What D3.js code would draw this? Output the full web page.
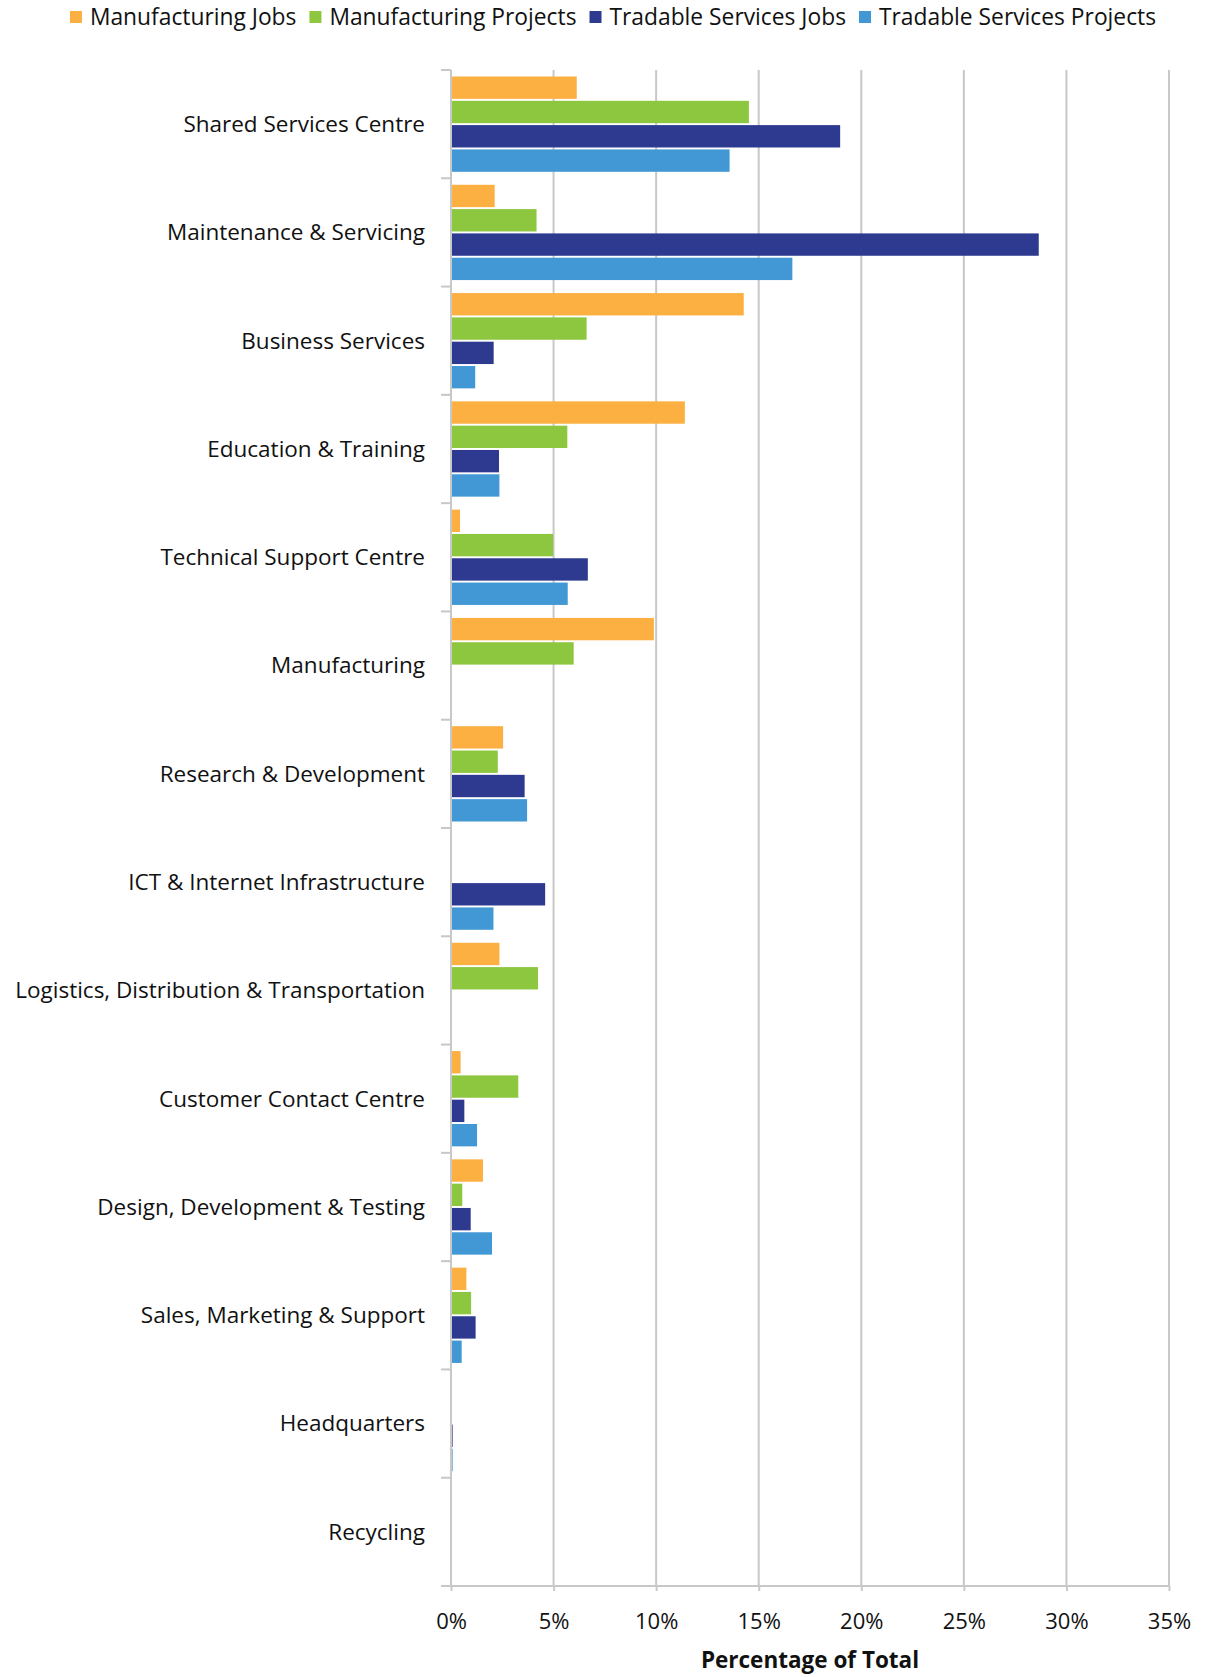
<!DOCTYPE html>
<html>
<head>
<meta charset="utf-8">
<script src="https://cdn.jsdelivr.net/npm/d3@7"></script>
<style>
  html, body { margin: 0; padding: 0; background: #fff; }
  svg text { font-family: "Open Sans", "Noto Sans", sans-serif; fill: #111; }
</style>
</head>
<body>
<svg id="chart" width="1205" height="1677"></svg>
<script>
// Project categories (top to bottom)
const categories = [
  "Shared Services Centre",
  "Maintenance & Servicing",
  "Business Services",
  "Education & Training",
  "Technical Support Centre",
  "Manufacturing",
  "Research & Development",
  "ICT & Internet Infrastructure",
  "Logistics, Distribution & Transportation",
  "Customer Contact Centre",
  "Design, Development & Testing",
  "Sales, Marketing & Support",
  "Headquarters",
  "Recycling"
];

// Share of total (%) per category, one array per series
const manufacturingJobs      = [6.13, 2.13, 14.27, 11.40, 0.44, 9.89, 2.54, 0, 2.36, 0.47, 1.56, 0.75, 0, 0];
const manufacturingProjects  = [14.52, 4.17, 6.61, 5.67, 4.98, 5.98, 2.28, 0, 4.24, 3.28, 0.55, 0.98, 0, 0];
const tradableServicesJobs   = [18.97, 28.65, 2.08, 2.34, 6.67, 0, 3.59, 4.59, 0, 0.65, 0.96, 1.20, 0.08, 0];
const tradableServicesProjects = [13.58, 16.64, 1.18, 2.36, 5.69, 0, 3.71, 2.07, 0, 1.27, 2.00, 0.52, 0.08, 0];

const seriesNames = ["Manufacturing Jobs", "Manufacturing Projects", "Tradable Services Jobs", "Tradable Services Projects"];
const seriesColors = ["#FCB042", "#8DC63F", "#2E3A8F", "#4198D5"];
const xTicks = [0, 5, 10, 15, 20, 25, 30, 35];
const xTitle = "Percentage of Total";

const seriesValues = [manufacturingJobs, manufacturingProjects, tradableServicesJobs, tradableServicesProjects];
const rows = categories.map((c, i) => ({
  category: c,
  values: seriesNames.map((s, k) => ({ series: s, value: seriesValues[k][i], color: seriesColors[k] }))
}));

const svg = d3.select("#chart");
const margin = { left: 451, right: 36, top: 70, bottom: 91 };
const W = 1205, H = 1677;

const x = d3.scaleLinear().domain([0, 35]).range([margin.left, W - margin.right]);
const y = d3.scaleBand().domain(categories).range([margin.top, H - margin.bottom]).padding(0);
const inner = d3.scaleBand().domain(seriesNames)
  .range([y.bandwidth() * 0.06, y.bandwidth() * 0.94]).paddingInner(0.08);

const grid = "#C8C8C8";

// Vertical gridlines
svg.append("g")
  .selectAll("line")
  .data(xTicks.filter(t => t > 0))
  .join("line")
  .attr("x1", d => x(d)).attr("x2", d => x(d))
  .attr("y1", margin.top).attr("y2", H - margin.bottom)
  .attr("stroke", grid).attr("stroke-width", 2);

// Bars
const groups = svg.append("g")
  .selectAll("g")
  .data(rows)
  .join("g")
  .attr("transform", d => `translate(0,${y(d.category)})`);

groups.selectAll("rect")
  .data(d => d.values.filter(v => v.value > 0))
  .join("rect")
  .attr("x", x(0) + 1)
  .attr("y", d => inner(d.series))
  .attr("width", d => Math.max(0, x(d.value) - x(0) - 1))
  .attr("height", inner.bandwidth())
  .attr("fill", d => d.color);

// Category axis with boundary ticks
const yAxisG = svg.append("g");
yAxisG.append("line")
  .attr("x1", x(0)).attr("x2", x(0))
  .attr("y1", margin.top).attr("y2", H - margin.bottom)
  .attr("stroke", grid).attr("stroke-width", 2);
const boundaries = categories.map(c => y(c)).concat([y(categories[categories.length - 1]) + y.bandwidth()]);
yAxisG.selectAll("line.tick")
  .data(boundaries)
  .join("line")
  .attr("class", "tick")
  .attr("x1", x(0) - 10).attr("x2", x(0))
  .attr("y1", d => d).attr("y2", d => d)
  .attr("stroke", grid).attr("stroke-width", 2);
yAxisG.selectAll("text")
  .data(categories)
  .join("text")
  .attr("x", x(0) - 26)
  .attr("y", d => y(d) + y.bandwidth() / 2)
  .attr("dy", "0.35em")
  .attr("text-anchor", "end")
  .attr("font-size", 22.5)
  .text(d => d);

// Value axis
const xAxis = d3.axisBottom(x)
  .tickValues(xTicks)
  .tickFormat(d => d + "%")
  .tickSize(5)
  .tickPadding(22);
const xAxisG = svg.append("g")
  .attr("transform", `translate(0,${H - margin.bottom})`)
  .call(xAxis);
xAxisG.select(".domain").remove();
xAxisG.insert("line", ":first-child")
  .attr("x1", x(0) - 10).attr("x2", x(35))
  .attr("y1", 0).attr("y2", 0)
  .attr("stroke", grid).attr("stroke-width", 2);
xAxisG.selectAll(".tick line").attr("stroke", grid).attr("stroke-width", 2);
xAxisG.selectAll(".tick text")
  .attr("font-size", 22)
  .attr("font-family", "'Open Sans', 'Noto Sans', sans-serif")
  .attr("fill", "#111");

svg.append("text")
  .attr("x", (x(0) + x(35)) / 2)
  .attr("y", H - 9)
  .attr("text-anchor", "middle")
  .attr("font-size", 22.5)
  .attr("font-weight", "bold")
  .text(xTitle);

// Legend across the top
const legend = svg.append("g").attr("transform", "translate(0,17)");
const items = legend.selectAll("g")
  .data(seriesNames)
  .join("g");
items.append("rect")
  .attr("width", 12).attr("height", 12)
  .attr("y", -6)
  .attr("fill", (d, i) => seriesColors[i]);
items.append("text")
  .attr("x", 20)
  .attr("dy", "0.35em")
  .attr("font-size", 22.8)
  .text(d => d);
const widths = [];
items.each(function () {
  widths.push(20 + this.querySelector("text").getComputedTextLength());
});
const gap = 13;
const totalW = d3.sum(widths) + gap * (widths.length - 1);
let cursor = 613 - totalW / 2;
items.attr("transform", (d, i) => {
  const tx = cursor;
  cursor += widths[i] + gap;
  return `translate(${tx},0)`;
});
</script>
</body>
</html>
